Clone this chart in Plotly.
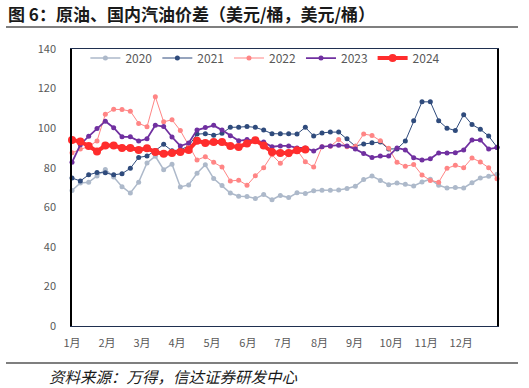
import plotly.graph_objects as go

weeks = list(range(52))
month_labels = ["1月", "2月", "3月", "4月", "5月", "6月", "7月", "8月", "9月", "10月", "11月", "12月"]
month_pos = [0, 4.2, 8.4, 12.6, 16.8, 21.1, 25.3, 29.7, 33.9, 38.3, 42.5, 46.7]

y2020 = [68.5, 72.3, 72.6, 75.8, 79.1, 75.3, 70.4, 67.2, 72.7, 82.4, 85.8, 79.0, 81.8, 70.3, 71.3, 77.2,
         81.5, 74.5, 71.0, 67.2, 65.6, 65.5, 64.4, 66.4, 63.8, 66.0, 64.9, 67.3, 67.0, 68.3, 68.6, 68.6,
         68.7, 69.5, 70.6, 74.0, 75.8, 73.6, 71.4, 72.3, 71.6, 70.8, 72.8, 74.2, 71.1, 69.8, 70.0, 69.8,
         72.4, 74.8, 75.7, 76.7]
y2021 = [74.8, 73.3, 76.4, 77.6, 77.4, 76.4, 77.0, 79.7, 85.2, 85.9, 88.7, 91.8, 88.6, 89.0, 91.0, 97.0,
         97.2, 96.4, 97.4, 100.4, 100.5, 100.8, 100.4, 99.0, 97.2, 97.2, 97.2, 97.0, 100.4, 96.0, 97.6, 98.0,
         98.0, 94.6, 90.9, 92.0, 92.6, 93.0, 89.5, 89.5, 93.5, 103.7, 113.3, 113.3, 103.7, 100.0, 98.8, 106.8,
         101.8, 99.4, 96.0, 90.4]
y2022 = [87.6, 89.4, 90.8, 93.5, 107.0, 109.5, 109.4, 108.6, 102.4, 100.7, 115.9, 103.2, 104.2, 98.8, 91.5, 83.9,
         85.6, 82.7, 80.3, 73.3, 73.7, 71.1, 75.9, 80.0, 86.5, 82.2, 86.5, 89.0, 83.0, 80.3, 90.6, 90.8,
         94.3, 90.6, 90.8, 97.0, 96.3, 93.6, 89.8, 82.7, 80.7, 81.6, 76.3, 73.6, 72.7, 79.7, 81.2, 80.0,
         84.9, 82.9, 80.0, 74.4]
y2023 = [82.7, 91.6, 95.9, 99.8, 103.5, 100.2, 95.6, 95.6, 93.5, 94.6, 101.5, 100.8, 95.5, 91.0, 92.5, 99.0,
         100.3, 101.4, 99.0, 96.2, 93.6, 94.2, 93.6, 93.0, 90.6, 91.0, 91.0, 90.0, 90.0, 88.4, 90.6, 91.0,
         91.4, 91.0, 89.4, 87.2, 85.1, 85.9, 85.9, 90.0, 89.0, 85.0, 83.9, 84.5, 87.5, 87.5, 87.6, 89.0,
         94.0, 94.0, 89.4, 90.2]
y2024 = [94.0, 93.2, 91.0, 88.2, 91.2, 91.2, 90.0, 90.0, 89.0, 89.8, 88.0, 87.0, 87.5, 88.0, 89.0, 93.6,
         92.5, 93.0, 93.0, 91.0, 90.5, 92.2, 93.9, 91.2, 88.0, 87.5, 87.5, 88.8, 89.2]

series = [
    ("2020", y2020, "#adb9ca", 1.5, 5),
    ("2021", y2021, "#2f4b7c", 1.0, 5),
    ("2022", y2022, "#ff8585", 1.0, 5),
    ("2023", y2023, "#7030a0", 1.75, 5),
    ("2024", y2024, "#ff2d2d", 4.0, 8),
]

fig = go.Figure()
for name, ys, color, lw, ms in series:
    fig.add_trace(go.Scatter(
        x=weeks[:len(ys)], y=ys, name=name, mode="lines+markers",
        line=dict(color=color, width=lw),
        marker=dict(color=color, size=ms),
        cliponaxis=False,
    ))

L, R, T, B = 72, 497, 49, 326
W, H = 529, 388
pw, ph = R - L, B - T

def px(x):
    return (x - L) / pw

def py(y):
    return (B - y) / ph

fig.update_layout(
    width=W, height=H,
    margin=dict(l=L, r=W - R, t=T, b=H - B, pad=0),
    paper_bgcolor="white", plot_bgcolor="white",
    font=dict(family="Noto Sans CJK SC, Noto Sans, sans-serif", color="#595959", size=11),
    showlegend=True,
    legend=dict(orientation="h", x=0.455, xanchor="center", y=py(58), yanchor="middle",
                font=dict(size=12, color="#595959"), bgcolor="rgba(0,0,0,0)",
                tracegroupgap=0),
    xaxis=dict(range=[0, 51], tickvals=month_pos, ticktext=month_labels, showgrid=False,
               zeroline=False, showline=True, linecolor="#1f2f4f", linewidth=1, mirror=True,
               ticks="outside", ticklen=7, tickcolor="rgba(0,0,0,0)",
               tickfont=dict(size=11, color="#595959")),
    yaxis=dict(range=[0, 140], dtick=20, showgrid=False, zeroline=False, showline=True,
               linecolor="black", linewidth=1.5, mirror=True,
               ticks="outside", ticklen=12, tickcolor="rgba(0,0,0,0)",
               tickfont=dict(size=11, color="#595959")),
    shapes=[
        dict(type="line", xref="paper", yref="paper", x0=px(6), x1=px(518), y0=py(27), y1=py(27),
             line=dict(color="#7f7f7f", width=2)),
        dict(type="line", xref="paper", yref="paper", x0=px(6), x1=px(518), y0=py(363), y1=py(363),
             line=dict(color="#7f7f7f", width=2)),
    ],
    annotations=[
        dict(text="<b>图 6：原油、国内汽油价差（美元/桶，美元/桶）</b>", xref="paper", yref="paper",
             x=px(6), y=py(14), xanchor="left", yanchor="middle", showarrow=False,
             font=dict(size=17, color="#1a1a1a", family="Noto Sans CJK SC")),
        dict(text="资料来源：万得，信达证券研发中心", xref="paper", yref="paper",
             x=px(47), y=py(376), xanchor="left", yanchor="middle", showarrow=False,
             font=dict(size=15.5, color="#1a1a1a", family="Noto Sans CJK SC", style="italic")),
    ],
)

fig.write_html("out.html", config={"displayModeBar": False},
               post_script="document.body.style.margin='0px';document.body.style.overflow='hidden';")
